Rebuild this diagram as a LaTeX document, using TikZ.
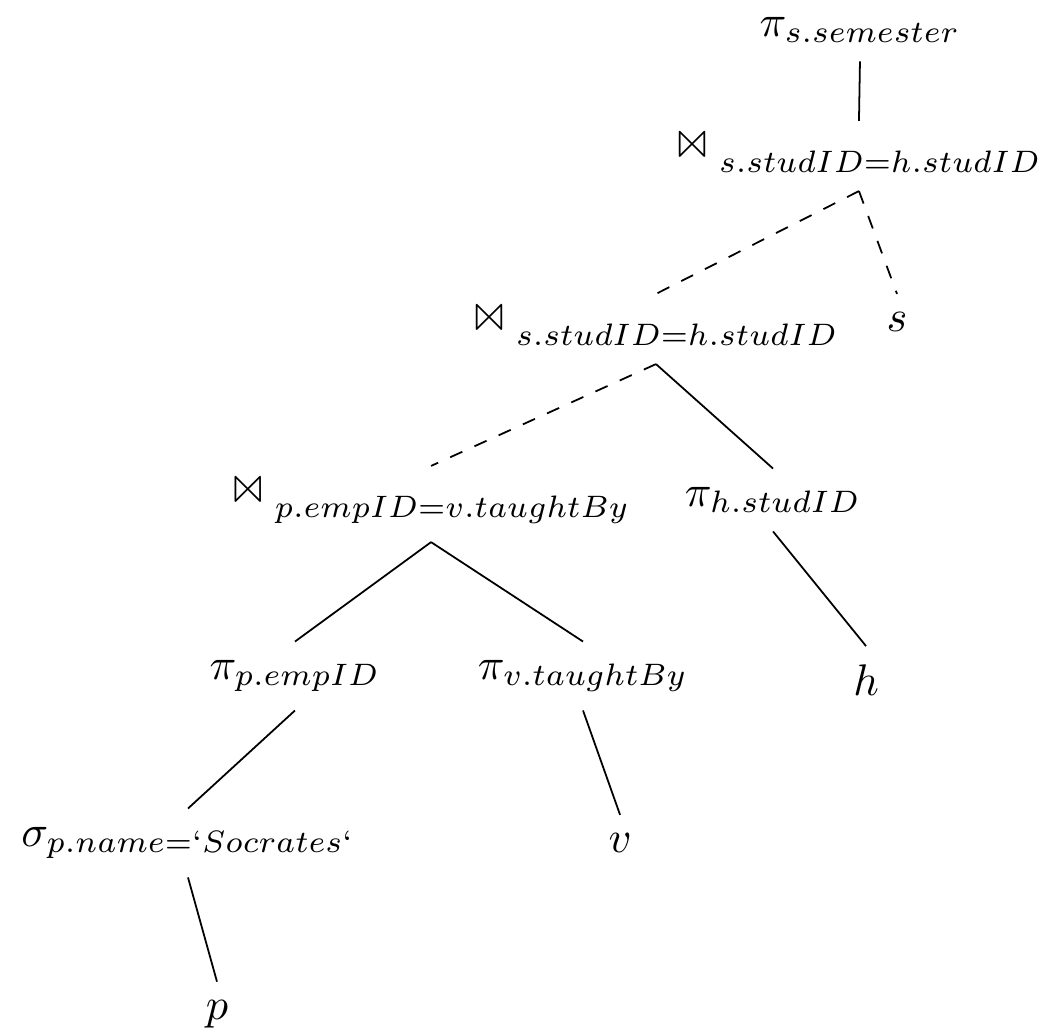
\documentclass[tikz,border=0pt]{standalone}
\usepackage{amsfonts, amsmath, amssymb, latexsym}
\usepackage{graphicx}
\usepackage{tikz}

% join sign, slightly raised
\newcommand{\joinop}{\mbox{\raisebox{1.5pt}{$\Join$}\hspace{2.5pt}}}

\begin{document}
\begin{tikzpicture}[op/.style={
		% plain text, no border
		inner sep=4pt},
	pipe/.style={dashed}]
    \useasboundingbox (0,0) rectangle (8.246,-8.183);
    \node [op] (ps) at (6.825,-0.238) {$\pi_{s.semester}$};
    \node [op] (j1) at (6.817,-1.238) {$\joinop_{s.studID=h.studID}$};
    \draw (ps.south) -- (j1.north);
    \node [op] (j2) at (5.206,-2.611) {$\joinop_{s.studID=h.studID}$};
    \node [op] (s) at (7.119,-2.556) {$s$};
    \draw [pipe] (j1.south) -- (j2.north);
    \draw [pipe] (j1.south) -- (s.north);
    \node [op] (j3) at (3.421,-4.0) {$\joinop_{p.empID=v.taughtBy}$};
    \node [op] (ph) at (6.135,-3.968) {$\pi_{h.studID}$};
    \draw [pipe] (j2.south) -- (j3.north);
    \draw (j2.south) -- (ph.north);
    \node [op] (h) at (6.873,-5.397) {$h$};
    \draw (ph.south) -- (h.north);
    \node [op] (pe) at (2.341,-5.365) {$\pi_{p.empID}$};
    \node [op] (pv) at (4.627,-5.365) {$\pi_{v.taughtBy}$};
    \draw (j3.south) -- (pe.north);
    \draw (j3.south) -- (pv.north);
    \node [op] (sig) at (1.492,-6.690) {$\sigma_{p.name=`Socrates`}$};
    \draw (pe.south) -- (sig.north);
    \node [op] (v) at (4.921,-6.690) {$v$};
    \draw (pv.south) -- (v.north);
    \node [op] (p) at (1.722,-8.048) {$p$};
    \draw (sig.south) -- (p.north);
\end{tikzpicture}
\end{document}
